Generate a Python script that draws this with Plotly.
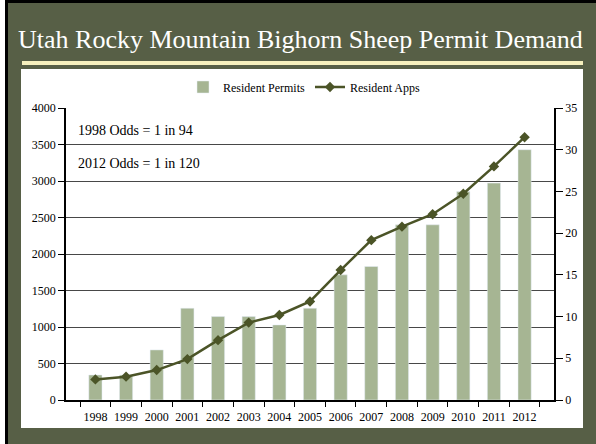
import plotly.graph_objects as go

years = ['1998', '1999', '2000', '2001', '2002', '2003', '2004', '2005',
         '2006', '2007', '2008', '2009', '2010', '2011', '2012']
resident_permits = [3, 3, 6, 11, 10, 10, 9, 11, 15, 16, 21, 21, 25, 26, 30]
resident_apps = [282, 320, 410, 560, 820, 1060, 1165, 1350, 1780, 2190,
                 2375, 2545, 2825, 3200, 3600]
notes = ['1998 Odds = 1 in 94', '2012 Odds = 1 in 120']

W, H = 596, 444
L, R, T, B = 66, 554, 108, 400
fnt = 'Liberation Serif'
bg = '#575f46'


def fx(x):
  return (x - L) / (R - L)


def fy(y):
  return (B - y) / (B - T)


fig = go.Figure()
fig.add_trace(go.Bar(x=years, y=resident_permits, name='Resident Permits',
                     marker_color='#a6b593', yaxis='y'))
fig.add_trace(go.Scatter(x=years, y=resident_apps, name='Resident Apps', mode='lines+markers',
                         line=dict(color='#4b5427', width=2.5),
                         marker=dict(symbol='diamond', size=8, color='#4b5427'),
                         yaxis='y2'))

shapes = [
  # white panel
  dict(type='rect', xref='paper', yref='paper', x0=fx(21), x1=fx(583), y0=fy(428), y1=fy(69),
       fillcolor='white', line_width=0, layer='below'),
  # yellow rule under title
  dict(type='line', xref='paper', yref='paper', x0=fx(22), x1=fx(583), y0=fy(63), y1=fy(63),
       line=dict(color='#f6f0bd', width=4), layer='below'),
  # frame bits
  dict(type='rect', xref='paper', yref='paper', x0=fx(0), x1=fx(5), y0=fy(444), y1=fy(0),
       fillcolor='white', line_width=0, layer='below'),
  dict(type='rect', xref='paper', yref='paper', x0=fx(5), x1=fx(8), y0=fy(444), y1=fy(0),
       fillcolor='black', line_width=0, layer='below'),
  dict(type='rect', xref='paper', yref='paper', x0=fx(5), x1=fx(596), y0=fy(3), y1=fy(0),
       fillcolor='black', line_width=0, layer='below'),
]

annotations = [
  dict(text='Utah Rocky Mountain Bighorn Sheep Permit Demand', xref='paper', yref='paper',
       x=fx(300), y=fy(40), xanchor='center', yanchor='middle', showarrow=False,
       font=dict(family=fnt, size=26, color='white')),
  dict(text=notes[0], xref='paper', yref='paper', x=fx(76), y=fy(130),
       xanchor='left', yanchor='middle', showarrow=False, font=dict(family=fnt, size=14, color='black')),
  dict(text=notes[1], xref='paper', yref='paper', x=fx(76), y=fy(163),
       xanchor='left', yanchor='middle', showarrow=False, font=dict(family=fnt, size=14, color='black')),
]

fig.update_layout(
  width=W, height=H,
  margin=dict(l=L, r=W - R, t=T, b=H - B),
  paper_bgcolor=bg, plot_bgcolor='white',
  font=dict(family=fnt, size=12, color='black'),
  bargap=0.57,
  showlegend=True,
  legend=dict(orientation='h', x=fx(304), y=fy(87), xanchor='center', yanchor='middle',
              bgcolor='rgba(0,0,0,0)', font=dict(size=12), itemwidth=30),
  xaxis=dict(type='category', showline=True, linecolor='black', linewidth=1.5,
             ticks='outside', tickson='boundaries', ticklen=5, tickcolor='black',
             showgrid=False, tickangle=0, tickfont=dict(size=12), ticklabelstandoff=5),
  yaxis=dict(side='right', range=[0, 35], dtick=5, showgrid=False, zeroline=False,
             showline=True, linecolor='black', linewidth=1.5, ticks='outside',
             ticklen=7, tickcolor='black', tickfont=dict(size=12)),
  yaxis2=dict(side='left', overlaying='y', range=[0, 4000], dtick=500, showgrid=True,
              gridcolor='#484848', gridwidth=1, zeroline=False,
              showline=True, linecolor='black', linewidth=1.5, ticks='outside',
              ticklen=6, tickcolor='black', tickfont=dict(size=12)),
  shapes=shapes,
  annotations=annotations,
)

# page body has a default margin; drop it so the figure sits at the window's corner
fig.write_html('out.html', config={'displayModeBar': False},
               post_script="document.body.style.margin='0';")
